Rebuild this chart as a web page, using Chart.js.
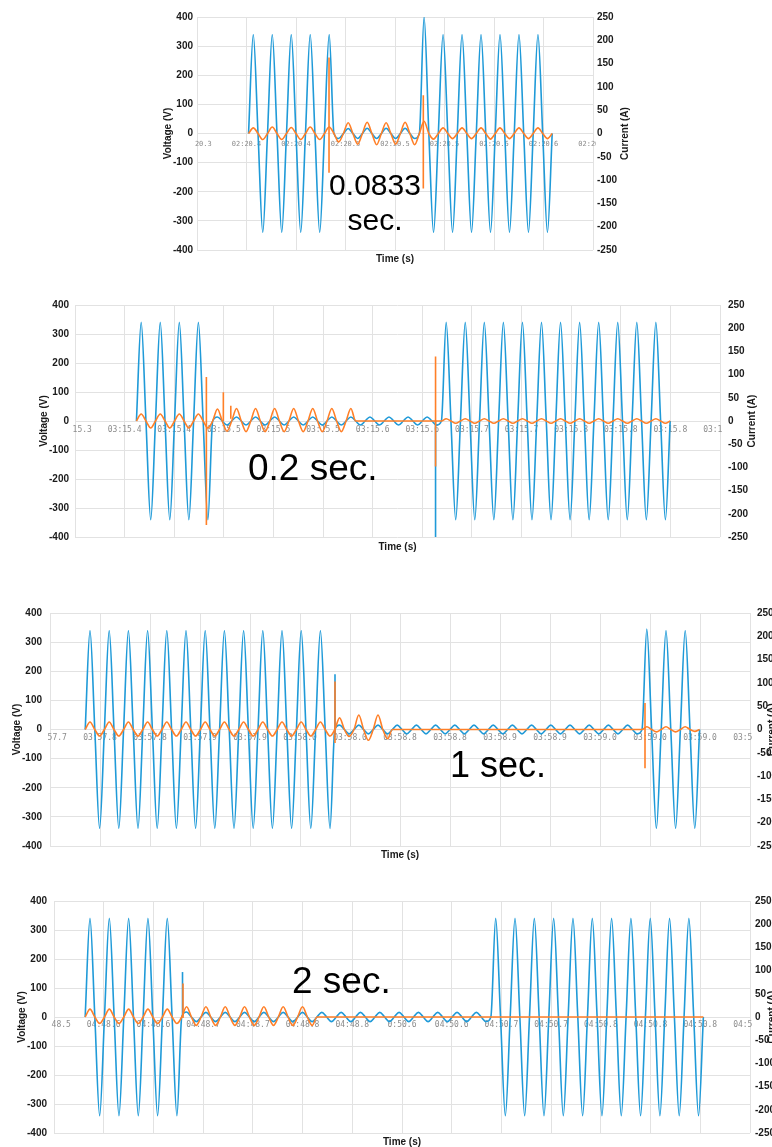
<!DOCTYPE html>
<html>
<head>
<meta charset="utf-8">
<script src="https://cdn.jsdelivr.net/npm/chart.js"></script>
<style>
  html, body { margin: 0; padding: 0; background: #fff; width: 772px; height: 1147px; overflow: hidden; }
  body { position: relative; }
  canvas { position: absolute; }
  .note { position: absolute; font-family: "Liberation Sans", Arial, sans-serif; color: #000; white-space: nowrap; line-height: 1; }
</style>
</head>
<body>
<canvas id="c1" width="469" height="265" style="left:162px;top:0px"></canvas>
<canvas id="c2" width="720" height="263" style="left:38px;top:290px"></canvas>
<canvas id="c3" width="767" height="263" style="left:11px;top:598px"></canvas>
<canvas id="c4" width="762" height="262" style="left:16px;top:886px"></canvas>

<div class="note" style="left:325px;top:167px;width:100px;text-align:center;font-size:30px;line-height:35px">0.0833<br>sec.</div>
<div class="note" style="left:248px;top:449px;font-size:37px">0.2 sec.</div>
<div class="note" style="left:450px;top:747px;font-size:36px">1 sec.</div>
<div class="note" style="left:292px;top:962px;font-size:37px">2 sec.</div>

<script>
const BLUE = '#1f9ad8';
const ORANGE = '#ff7f27';
const GRID = '#e2e2e2';

// x tick labels (first and last get clipped by the plot edge, like the original)
const timeLabels1 = ["02:20.3","02:20.4","02:20.4","02:20.5","02:20.5","02:20.5","02:20.6","02:20.6","02:20.7"];
const timeLabels2 = ["03:15.3","03:15.4","03:15.4","03:15.5","03:15.5","03:15.5","03:15.6","03:15.6","03:15.7","03:15.7","03:15.8","03:15.8","03:15.8","03:15.9"];
const timeLabels3 = ["03:57.7","03:57.8","03:57.8","03:57.9","03:57.9","03:58.0","03:58.0","03:58.8","03:58.8","03:58.9","03:58.9","03:59.0","03:59.0","03:59.0","03:59.1"];
const timeLabels4 = ["04:48.5","04:48.6","04:48.6","04:48.7","04:48.7","04:48.8","04:48.8","0:50.6","04:50.6","04:50.7","04:50.7","04:50.8","04:50.8","04:50.8","04:50.9"];

// peak value of every half cycle (V and A)
const voltage1 = [340,-340,340,-340,340,-340,340,-340,340,
  -17,17,-17,18,-17,18,-17,18,-17,
  400,-340,340,-340,340,-340,340,-340,340,-340,340,-340,340,-340];
const current1 = [12,-13,14,-13,13,-13,14,-13,14,
  -18,23,-23,24,-24,23,-23,24,-24,
  26,-12,12,-11,12,-11,12,-12,12,-11,12,-11,12,-11];

const voltage2 = [340,-340,340,-340,340,-340,340,-340,
  14,-14,14,-14,14,-14,14,-14,14,-14,14,-14,14,-14,14,-14,14,-14,14,-14,14,-14,14,
  -14,
  340,-340,340,-340,340,-340,340,-340,340,-340,340,-340,340,-340,340,-340,340,-340,340,-340,340,-340,340,-340];
const current2 = [15,-15,15,-15,15,-15,15,
  -15,
  26,-22,27,-23,27,-23,27,-23,27,-23,27,-23,27,-23,27,
  0,0,0,0,0,0,0,0,0,
  5,-5,5,-5,5,-5,5,-5,5,-5,5,-5,5,-5,5,-5,5,-5,5,-5,5,-5,5,-5];

const voltage3 = [340,-340,340,-340,340,-340,340,-340,340,-340,340,-340,340,-340,340,-340,340,-340,340,-340,340,-340,340,-340,340,-340,
  15,
  -15,15,-15,15,-15,15,-15,15,-15,15,-15,15,-15,15,-15,15,-15,15,-15,15,-15,15,-15,15,-15,15,-15,15,-15,15,-15,
  345,-340,340,-340,340,-340];
const current3 = [16,-14,16,-14,16,-14,16,-14,16,-14,16,-14,16,-14,16,-14,16,-14,16,-14,16,-14,16,-14,16,-14,
  25,-15,31,-23,31,-20,
  0,0,0,0,0,0,0,0,0,0,0,0,0,0,0,0,0,0,0,0,0,0,0,0,0,0,
  6,-5,6,-5,6,-4];

const voltage4 = [340,-340,340,-340,340,-340,340,-340,340,-340,
  17,
  -16,16,-16,16,-16,16,-16,16,-16,16,-16,16,-16,16,-16,16,-16,16,-16,16,-16,16,-16,16,-16,16,-16,16,-16,16,-16,
  340,-340,340,-340,340,-340,340,-340,340,-340,340,-340,340,-340,340,-340,340,-340,340,-340,340,-340];
const current4 = [17,-14,17,-14,17,-14,17,-14,17,-14,
  22,
  -18,22,-18,22,-18,22,-18,22,-18,22,-18,22,-18,
  0,0,0,0,0,0,0,0,0,0,0,0,0,0,0,0,0,0,0,0,0,0,0,0,0,0,0,0,0,0,0,0,0,0,0,0,0,0,0,0];

// time of the first peak and length of a half cycle, in x tick steps
const firstPeak1 = 1.137, halfCycle1 = 0.1917;
const firstPeak2 = 1.334, halfCycle2 = 0.1921;
const firstPeak3 = 0.800, halfCycle3 = 0.1920;
const firstPeak4 = 0.724, halfCycle4 = 0.1943;

// switching transients: [time, from, to]
const voltageSpikes1 = [];
const currentSpikes1 = [[2.667, 163, -84], [4.572, 82, -118]];
const voltageSpikes2 = [[7.267, 0, -400]];
const currentSpikes2 = [[2.648, 95, -224], [2.990, 62, 0], [3.140, 33, 5], [7.267, 139, -98]];
const voltageSpikes3 = [[5.70, -20, 190]];
const currentSpikes3 = [[5.70, 103, -29], [11.90, 57, -83]];
const voltageSpikes4 = [[2.585, 0, 155]];
const currentSpikes4 = [[2.595, -2, 72]];

// x axis whose tick labels are clipped to the plot area
const BaseLinear = Chart.LinearScale;
class ClippedLinear extends BaseLinear {
  drawLabels(area) {
    const a = this.chart.chartArea, ctx = this.ctx;
    ctx.save();
    ctx.beginPath();
    ctx.rect(a.left - 3, a.top, a.right - a.left + 6, a.bottom - a.top);
    ctx.clip();
    super.drawLabels(area);
    ctx.restore();
  }
}
ClippedLinear.id = 'clippedLinear';
ClippedLinear.defaults = BaseLinear.defaults;
Chart.register(ClippedLinear);

// right axis title reads bottom to top, as in the source
const rightTitle = {
  id: 'rightTitle',
  afterDraw(chart, args, opts) {
    const s = chart.scales.a, ca = chart.chartArea, ctx = chart.ctx;
    ctx.save();
    ctx.translate(s.right - 6, (ca.top + ca.bottom) / 2);
    ctx.rotate(-Math.PI / 2);
    ctx.font = 'bold 10px "Liberation Sans", Arial, sans-serif';
    ctx.fillStyle = '#1a1a1a';
    ctx.textAlign = 'center';
    ctx.textBaseline = 'middle';
    ctx.fillText(opts.text, 0, 0);
    ctx.restore();
  }
};

function wave(first, step, peaks) {
  const pts = [{x: first - step / 2, y: 0}];
  peaks.forEach((p, j) => {
    pts.push({x: first + j * step, y: p});
    pts.push({x: first + (j + 0.5) * step, y: 0});
  });
  return pts;
}

function spikes(list) {
  const pts = [];
  list.forEach(([x, a, b]) => pts.push({x, y: a}, {x, y: b}, {x, y: null}));
  return pts;
}

const boldFont = {family: '"Liberation Sans", Arial, sans-serif', size: 10, weight: 'bold'};

function makeChart(id, labels, volts, amps, first, step, vSpikes, aSpikes, L) {
  const n = labels.length - 1;
  const line = (data, color, axis, smooth) => ({
    data, yAxisID: axis, xAxisID: 'x',
    borderColor: color, borderWidth: 1.6, pointRadius: 0,
    fill: false, spanGaps: false,
    cubicInterpolationMode: smooth ? 'monotone' : 'default', tension: 0
  });
  new Chart(document.getElementById(id), {
    type: 'line',
    data: {
      datasets: [
        line(wave(first, step, amps), ORANGE, 'a', true),
        line(spikes(aSpikes), ORANGE, 'a', false),
        line(wave(first, step, volts), BLUE, 'v', true),
        line(spikes(vSpikes), BLUE, 'v', false)
      ]
    },
    plugins: [rightTitle],
    options: {
      responsive: false,
      animation: false,
      events: [],
      layout: {padding: {top: L.top, left: 0, right: 0, bottom: 0}},
      plugins: {
        legend: {display: false},
        tooltip: {enabled: false},
        rightTitle: {text: 'Current (A)'}
      },
      scales: {
        x: {
          type: 'clippedLinear', axis: 'x', position: {v: 0},
          min: 0, max: n,
          ticks: {
            stepSize: 1, autoSkip: false, maxRotation: 0, minRotation: 0,
            padding: L.xPad, color: '#8c8c8c',
            font: {family: '"DejaVu Sans Mono", monospace', size: L.xFont},
            callback: (v, i) => labels[i]
          },
          grid: {color: GRID, drawTicks: false},
          border: {display: false}
        },
        t: {
          type: 'linear', axis: 'x', position: 'bottom', min: 0, max: n,
          ticks: {display: false}, grid: {display: false, drawTicks: false}, border: {display: false},
          title: {display: true, text: 'Time (s)', font: boldFont, color: '#1a1a1a', padding: 0},
          afterFit: s => { s.height = L.bottom; }
        },
        v: {
          type: 'linear', axis: 'y', position: 'left', min: -400, max: 400,
          ticks: {stepSize: 100, padding: L.leftPad, font: boldFont, color: '#1a1a1a'},
          grid: {color: GRID, drawTicks: false},
          border: {display: false},
          title: {display: true, text: 'Voltage (V)', font: boldFont, color: '#1a1a1a', padding: 0},
          afterFit: s => { s.width = L.left; }
        },
        a: {
          type: 'linear', axis: 'y', position: 'right', min: -250, max: 250,
          ticks: {stepSize: 50, padding: L.rightPad, font: boldFont, color: '#1a1a1a'},
          grid: {display: false, drawTicks: false},
          border: {display: false},
          afterFit: s => { s.width = L.right; }
        }
      }
    }
  });
}

makeChart('c1', timeLabels1, voltage1, current1, firstPeak1, halfCycle1, voltageSpikes1, currentSpikes1,
  {top: 17, bottom: 15, left: 35, right: 38, leftPad: 4, rightPad: 4, xFont: 7, xPad: 6});
makeChart('c2', timeLabels2, voltage2, current2, firstPeak2, halfCycle2, voltageSpikes2, currentSpikes2,
  {top: 15, bottom: 16, left: 37, right: 38, leftPad: 6, rightPad: 8, xFont: 8, xPad: 4});
makeChart('c3', timeLabels3, voltage3, current3, firstPeak3, halfCycle3, voltageSpikes3, currentSpikes3,
  {top: 15, bottom: 15, left: 39, right: 28, leftPad: 8, rightPad: 7, xFont: 8, xPad: 4});
makeChart('c4', timeLabels4, voltage4, current4, firstPeak4, halfCycle4, voltageSpikes4, currentSpikes4,
  {top: 15, bottom: 15, left: 38, right: 28, leftPad: 7, rightPad: 5, xFont: 8, xPad: 3});
</script>
</body>
</html>
